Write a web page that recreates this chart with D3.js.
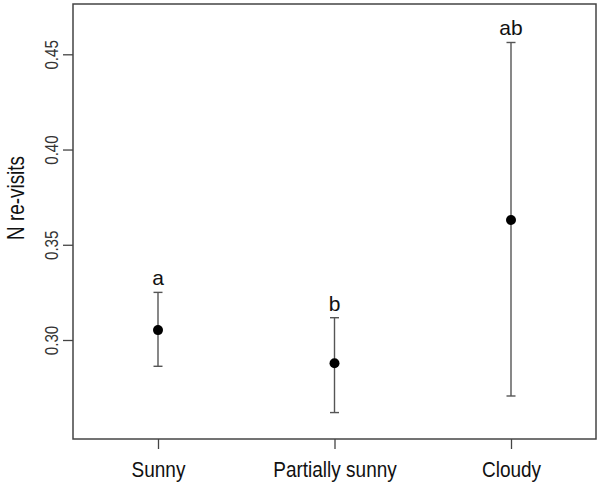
<!DOCTYPE html>
<html>
<head>
<meta charset="utf-8">
<script src="https://cdn.jsdelivr.net/npm/d3@7"></script>
<style>
  body { margin: 0; background: #fff; }
  svg { display: block; font-family: "Liberation Sans", Arial, sans-serif; }
  .frame { fill: none; stroke: #444; stroke-width: 1.5px; }
  .tick line { stroke: #444; stroke-width: 1.3px; }
  .errbar { stroke: #555; stroke-width: 1.4px; }
</style>
</head>
<body>
<svg width="598" height="484"></svg>
<script>
// data
const categories = ['Sunny', 'Partially sunny', 'Cloudy'];
const means = [0.3052, 0.2878, 0.3630];
const lower = [0.2862, 0.2619, 0.2706];
const upper = [0.3250, 0.3117, 0.4562];
const groupLetters = ['a', 'b', 'ab'];
const yTicks = [0.30, 0.35, 0.40, 0.45];

const svg = d3.select('svg');
const plot = { left: 73, right: 596, top: 4, bottom: 439 };

const x = d3.scalePoint()
  .domain(categories)
  .range([158, 511]);

const y = d3.scaleLinear()
  .domain([0.30, 0.45])
  .range([340, 54.3]);

// frame
svg.append('rect')
  .attr('class', 'frame')
  .attr('x', plot.left)
  .attr('y', plot.top)
  .attr('width', plot.right - plot.left)
  .attr('height', plot.bottom - plot.top);

// y axis
const yAxis = svg.append('g')
  .attr('transform', `translate(${plot.left},0)`)
  .call(d3.axisLeft(y).tickValues(yTicks).tickFormat(d3.format('.2f')).tickSize(10).tickPadding(5));
yAxis.select('.domain').remove();
yAxis.selectAll('.tick text')
  .attr('font-size', 16)
  .attr('fill', '#333')
  .attr('text-anchor', 'middle')
  .attr('x', 0).attr('dy', 0)
  .attr('transform', 'translate(-15,0) rotate(-90) scale(0.95,1.1)');

// x axis
const xAxis = svg.append('g')
  .attr('transform', `translate(0,${plot.bottom})`)
  .call(d3.axisBottom(x).tickSize(10).tickPadding(0));
xAxis.select('.domain').remove();
xAxis.selectAll('.tick text')
  .attr('font-size', 19)
  .attr('fill', '#111')
  .attr('y', 0).attr('dy', 0)
  .attr('transform', 'translate(0,38) scale(1,1.12)');

// y title
svg.append('text')
  .attr('transform', 'translate(24,198) rotate(-90) scale(0.9,1.15)')
  .attr('text-anchor', 'middle')
  .attr('font-size', 21)
  .attr('fill', '#111')
  .text('N re-visits');

// error bars
const rows = categories.map((c, i) => ({ c, m: means[i], lo: lower[i], hi: upper[i], letter: groupLetters[i] }));
const capW = 4.5;

const g = svg.append('g');
g.selectAll('.stem').data(rows).enter().append('line')
  .attr('class', 'errbar')
  .attr('x1', d => x(d.c)).attr('x2', d => x(d.c))
  .attr('y1', d => y(d.lo)).attr('y2', d => y(d.hi));

['lo', 'hi'].forEach(k => {
  g.selectAll('.cap-' + k).data(rows).enter().append('line')
    .attr('class', 'errbar')
    .attr('x1', d => x(d.c) - capW).attr('x2', d => x(d.c) + capW)
    .attr('y1', d => y(d[k])).attr('y2', d => y(d[k]));
});

g.selectAll('circle').data(rows).enter().append('circle')
  .attr('cx', d => x(d.c))
  .attr('cy', d => y(d.m))
  .attr('r', 5)
  .attr('fill', '#000');

g.selectAll('.letter').data(rows).enter().append('text')
  .attr('x', d => x(d.c))
  .attr('y', d => y(d.hi) - 7)
  .attr('text-anchor', 'middle')
  .attr('font-size', 21)
  .attr('fill', '#111')
  .text(d => d.letter);
</script>
</body>
</html>
